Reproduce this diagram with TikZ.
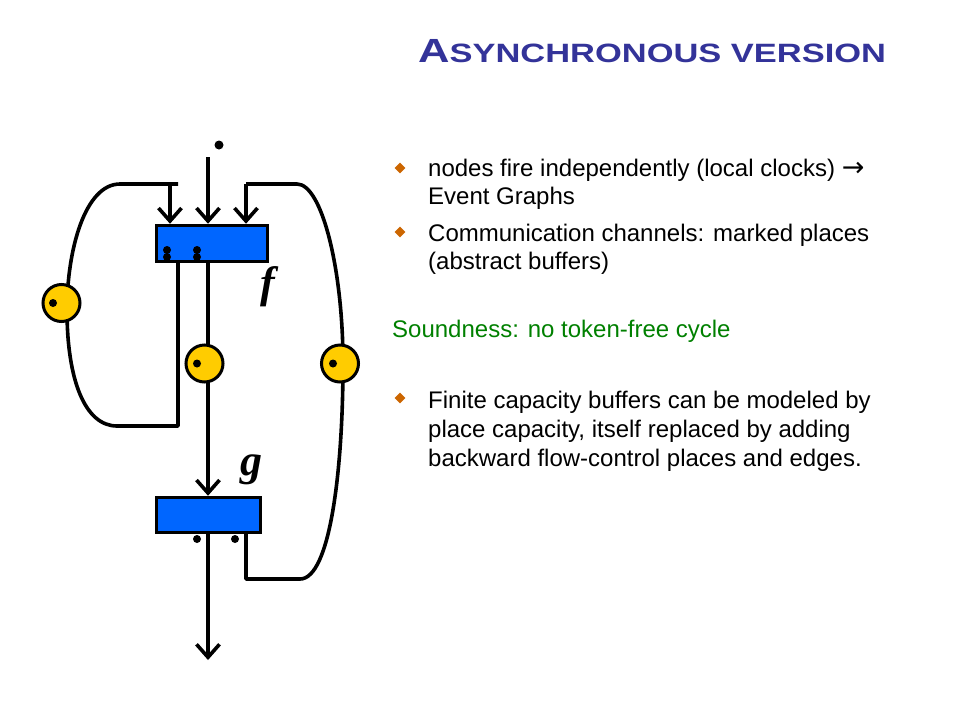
\documentclass[tikz,border=0pt]{standalone}
\usepackage{graphicx}
\usepackage{fontspec}
\setmainfont{Liberation Sans}
\newfontfamily\labelfont{Liberation Serif}
\usetikzlibrary{arrows.meta,shapes.geometric}
\definecolor{titleblue}{RGB}{51,51,153}
\definecolor{boxblue}{RGB}{0,102,255}
\definecolor{placegold}{RGB}{255,204,0}
\definecolor{bulletorange}{RGB}{204,102,0}
\definecolor{soundgreen}{RGB}{0,128,0}
\tikzset{
  trans/.style={draw=black, line width=3.5pt, fill=boxblue, inner sep=0pt},
  place/.style={circle, draw=black, line width=3pt, fill=placegold, minimum size=37pt, inner sep=0pt},
  token/.style={circle, fill=black, inner sep=0pt, minimum size=8pt},
  wire/.style={line width=3.6pt, line join=round},
  arr/.style={wire, -{Straight Barb[length=13pt,width=23pt]}},
  bodytext/.style={anchor=base west, inner sep=0pt, font=\fontsize{24}{28}\selectfont},
  bulletmark/.style={diamond, fill=bulletorange, inner sep=0pt, minimum size=11pt},
  lbl/.style={inner sep=0pt, font=\labelfont\bfseries\itshape\fontsize{44}{44}\selectfont}
}
\begin{document}
\begin{tikzpicture}[x=1pt,y=-1pt]
\useasboundingbox (0,0) rectangle (960,720);

% title
\node[anchor=base west, inner sep=0pt, text=titleblue] (title) at (418,62)
  {\scalebox{1.30}[1]{\bfseries\fontsize{33.5}{34}\selectfont A\fontsize{26.5}{27}\selectfont SYNCHRONOUS VERSION}};

% transitions
\node[trans, minimum width=111pt, minimum height=36pt] (f) at (212,243.5) {};
\node[trans, minimum width=104pt, minimum height=35pt] (g) at (208.5,515) {};

% coordinates
\coordinate (top) at (208,157);
\coordinate (fl) at (178,263);
\coordinate (lb) at (178,426);
\coordinate (lc) at (117,426);
\coordinate (lt) at (120,184);
\coordinate (lh) at (178,184);
\coordinate (la) at (170,184);
\coordinate (fm) at (208,263);
\coordinate (gm) at (208,534);
\coordinate (out) at (208,660);
\coordinate (gr) at (246,534);
\coordinate (rb) at (246,579);
\coordinate (rc) at (300,579);
\coordinate (rt) at (297,184);
\coordinate (rh) at (246,184);

% left loop
\draw[wire] (fl) -- (lb) -- (lc) .. controls (85,426) and (67,380) .. (67,310)
   .. controls (67,250) and (85,184) .. (lt) -- (lh);
\draw[arr] (la) -- (la |- f.north);
% right loop
\draw[wire] (gr) -- (rb) -- (rc) .. controls (330,579) and (343,470) .. (343,363)
   .. controls (343,270) and (322,184) .. (rt) -- (rh);
\draw[arr] (rh) -- (rh |- f.north);
% middle
\draw[arr] (top) -- (top |- f.north);
\draw[arr] (fm) -- (fm |- g.north);
\draw[arr] (gm) -- (out);

% redraw transitions on top
\node[trans, minimum width=111pt, minimum height=36pt] at (212,243.5) {};
\node[trans, minimum width=104pt, minimum height=35pt] at (208.5,515) {};

% places
\node[place] (p1) at (61.5,303) {};
\node[place] (p2) at (204.5,363.5) {};
\node[place] (p3) at (340,363.5) {};
\node[token] (t1) at (53,303) {};
\node[token] (t2) at (197,363.5) {};
\node[token] (t3) at (333,363.5) {};

% tokens
\node[token, minimum size=9pt] (t0) at (219,145) {};
\node[token] (ta1) at (167,250) {};
\node[token] (ta2) at (167,257) {};
\node[token] (tb1) at (197,250) {};
\node[token] (tb2) at (197,257) {};
\node[token] (tc1) at (197,539) {};
\node[token] (tc2) at (235,539) {};

% labels
\node[lbl] (flbl) at (268,287) {f};
\node[lbl] (glbl) at (251,470) {g};

% text
\node[bulletmark] (b1) at (400,168) {};
\node[bodytext] (l1) at (428,176) {nodes fire independently (local clocks) {\fontspec{DejaVu Sans}\fontsize{27}{28}\selectfont →}};
\node[bodytext] (l2) at (428,204) {Event Graphs};
\node[bulletmark] (b2) at (400,232) {};
\node[bodytext] (l3) at (428,241) {Communication channels: marked places};
\node[bodytext] (l4) at (428,269) {(abstract buffers)};
\node[bodytext, text=soundgreen] (s) at (392,337) {Soundness: no token-free cycle};
\node[bulletmark] (b3) at (400,398) {};
\node[bodytext] (l5) at (428,408) {Finite capacity buffers can be modeled by};
\node[bodytext] (l6) at (428,437) {place capacity, itself replaced by adding};
\node[bodytext] (l7) at (428,466) {backward flow-control places and edges.};
\end{tikzpicture}
\end{document}
